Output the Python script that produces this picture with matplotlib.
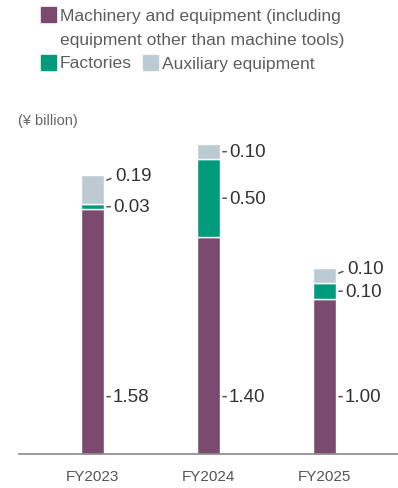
import matplotlib
matplotlib.use("Agg")
import matplotlib.pyplot as plt
from matplotlib.patches import Rectangle
import numpy as np

plt.rcParams['font.family'] = ['Liberation Sans', 'DejaVu Sans']

years = ['FY2023', 'FY2024', 'FY2025']
machinery = [1.58, 1.40, 1.00]
factories = [0.03, 0.50, 0.10]
auxiliary = [0.19, 0.10, 0.10]

c_mach = '#7b4a6e'
c_fact = '#009b7d'
c_aux = '#bccbd3'
txt = '#333333'
legend_txt = '#5e5e5e'

W, H = 398, 489
fig = plt.figure(figsize=(W / 100, H / 100), dpi=100)

def px(x, y):
    # pixel position (from top-left) to figure fraction
    return x / W, 1 - y / H

# axes: left edge at 19px, baseline at 455px, top at 100px
ax = fig.add_axes([19 / W, (H - 455) / H, (W - 19) / W, 355 / H])
x = np.arange(len(years))
width = 0.2
ax.set_xlim(-0.634, 2.634)
ax.set_ylim(0, 2.29)

mach = np.array(machinery)
fact = np.array(factories)
aux = np.array(auxiliary)
ax.bar(x, mach, width, color=c_mach, edgecolor='white', linewidth=1.0)
ax.bar(x, fact, width, bottom=mach, color=c_fact, edgecolor='white', linewidth=1.0)
ax.bar(x, aux, width, bottom=mach + fact, color=c_aux, edgecolor='white', linewidth=1.0)

for s in ['top', 'right', 'left']:
    ax.spines[s].set_visible(False)
ax.spines['bottom'].set_color('#888888')
ax.spines['bottom'].set_linewidth(1.2)
ax.set_yticks([])
ax.set_xticks(x)
ax.set_xticklabels(years, fontsize=11, color='#555555')
ax.tick_params(axis='x', length=0, pad=11)

lbl = dict(fontsize=13.5, color=txt, va='center', ha='left',
           textcoords='offset pixels', annotation_clip=False)

def dash(xi, y, val):
    ax.annotate(f'{val:.2f}', xy=(xi + width / 2, y), xytext=(9, 0),
                arrowprops=dict(arrowstyle='-', color='#555555', lw=1.1,
                                shrinkA=0, shrinkB=2, relpos=(0, 0.5)),
                **lbl)

def slash(xi, y, val):
    ax.annotate(f'{val:.2f}', xy=(xi + width / 2, y), xytext=(11, 6),
                arrowprops=dict(arrowstyle='-', color='#555555', lw=1.1,
                                shrinkA=1, shrinkB=2, relpos=(0, 0.4)),
                **lbl)

for i in range(len(years)):
    dash(x[i], 0.37, machinery[i])
    dash(x[i], mach[i] + fact[i] / 2, factories[i])
    top = mach[i] + fact[i] + aux[i]
    if i == 1:
        dash(x[i], mach[i] + fact[i] + aux[i] / 2, auxiliary[i])
    else:
        slash(x[i], top - 0.04, auxiliary[i])

# legend
def swatch(xp, yp, color):
    x0, y0 = px(xp, yp + 15)
    fig.add_artist(Rectangle((x0, y0), 15 / W, 15 / H, color=color,
                             transform=fig.transFigure))

swatch(41, 8, c_mach)
fig.text(*px(60, 16), 'Machinery and equipment (including', fontsize=12.6,
         color=legend_txt, va='center')
fig.text(*px(60, 40), 'equipment other than machine tools)', fontsize=12.6,
         color=legend_txt, va='center')
swatch(41, 56, c_fact)
fig.text(*px(60, 64), 'Factories', fontsize=12.6, color=legend_txt, va='center')
swatch(143, 56, c_aux)
fig.text(*px(162, 64), 'Auxiliary equipment', fontsize=12.6, color=legend_txt,
         va='center')

fig.text(*px(18, 121), '(¥ billion)', fontsize=10.5, color='#666666', va='center')

fig.savefig('out.png', dpi=100)
